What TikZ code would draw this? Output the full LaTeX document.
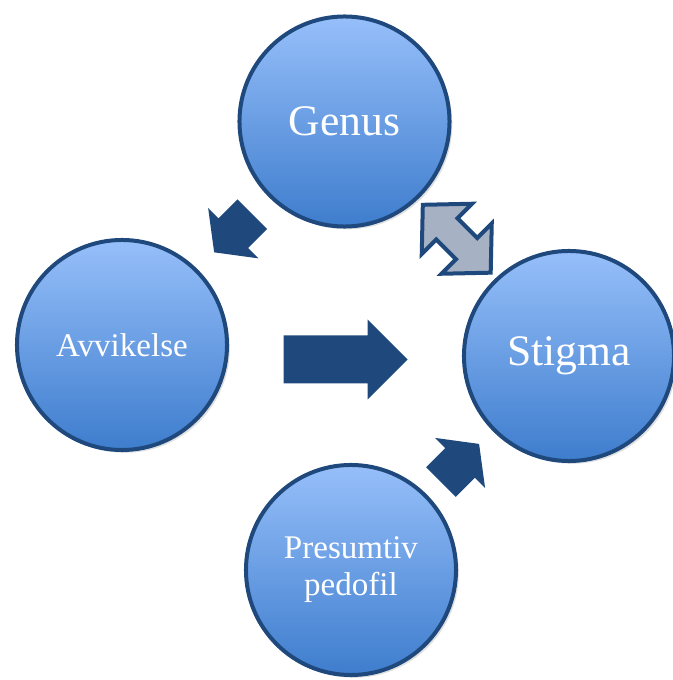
\documentclass[tikz,border=0pt]{standalone}
\usepackage{fontspec}
\setmainfont{Liberation Serif}
\usetikzlibrary{calc,shadows}

\definecolor{rimblue}{RGB}{31,73,125}
\definecolor{balltop}{RGB}{150,191,250}
\definecolor{ballbottom}{RGB}{62,125,205}
\definecolor{pairgrey}{RGB}{166,178,195}

\tikzset{
	ball/.style = {circle, draw=rimblue, line width=0.1cm, minimum size=5.25cm,
		top color=balltop, bottom color=ballbottom, text=white, align=center,
		drop shadow={shadow xshift=0.07cm, shadow yshift=-0.07cm, opacity=0.25}},
	bigtext/.style = {font=\fontsize{31}{35}\selectfont},
	smalltext/.style = {font=\fontsize{23.5}{26.3}\selectfont},
	% length, shaft, head width, head length
	pics/onearrow/.style n args = {4}{code={
		\fill[rimblue] (-#1/2,-#2/2) -- (#1/2-#4,-#2/2) -- (#1/2-#4,-#3/2) -- (#1/2,0)
			-- (#1/2-#4,#3/2) -- (#1/2-#4,#2/2) -- (-#1/2,#2/2) -- cycle;
	}},
	pics/twoarrow/.style n args = {4}{code={
		\draw[rimblue, line width=0.1cm, line join=miter, fill=pairgrey]
			(-#1/2,0) -- (-#1/2+#4,#3/2) -- (-#1/2+#4,#2/2) -- (#1/2-#4,#2/2)
			-- (#1/2-#4,#3/2) -- (#1/2,0) -- (#1/2-#4,-#3/2) -- (#1/2-#4,-#2/2)
			-- (-#1/2+#4,-#2/2) -- (-#1/2+#4,-#3/2) -- cycle;
	}}
}

\begin{document}
\begin{tikzpicture}[x=0.025cm, y=0.025cm]
	\useasboundingbox (0,0) rectangle (673,680);
	\node[ball, bigtext] (genus) at (344.5,558.5) {Genus};
	\node[ball, smalltext] (avvik) at (122,335) {Avvikelse};
	\node[ball, bigtext] (stigma) at (569,324) {Stigma};
	\node[ball, smalltext] (pedo) at (351,110) {Presumtiv\\pedofil};
	% arrows between the balls
	\pic[rotate=225] at ($(genus)!0.5!(avvik)$) {onearrow={54}{42}{71}{27}};
	\pic at ($(avvik)!0.5!(stigma)+(0,-9)$) {onearrow={124}{48}{80}{40}};
	\pic[rotate=45] at ($(pedo)!0.5!(stigma)$) {onearrow={54}{42}{71}{27}};
	\pic[rotate=-45] at ($(genus)!0.5!(stigma)$) {twoarrow={96}{30}{71}{34}};
\end{tikzpicture}
\end{document}
